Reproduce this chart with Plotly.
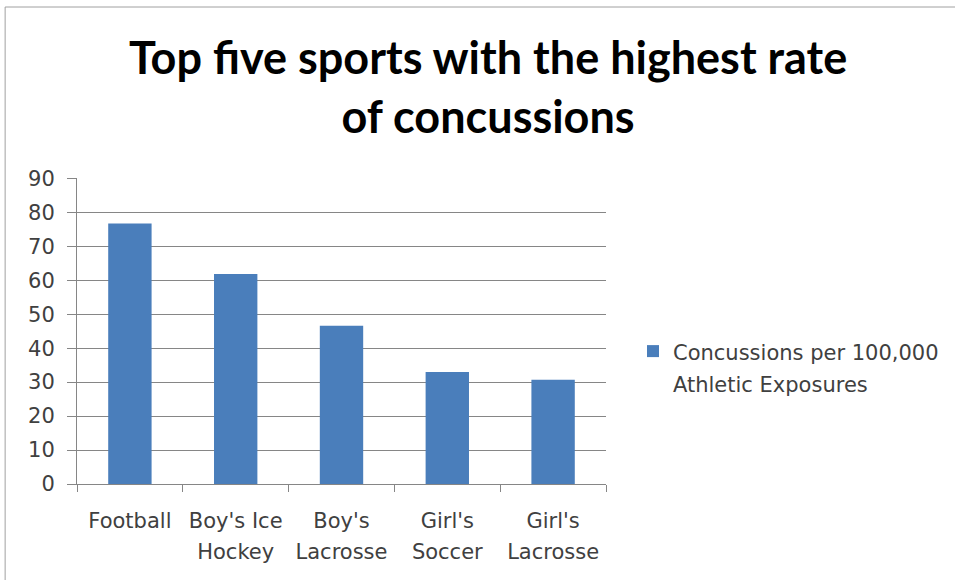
import plotly.graph_objects as go

categories = ["Football", "Boy's Ice Hockey", "Boy's Lacrosse", "Girl's Soccer", "Girl's Lacrosse"]
tick_line1 = ["Football", "Boy's Ice", "Boy's", "Girl's", "Girl's"]
tick_line2 = ["", "Hockey", "Lacrosse", "Soccer", "Lacrosse"]
values = [76.7, 61.8, 46.6, 33.0, 30.7]
legend_line1 = "Concussions per 100,000"
legend_line2 = "Athletic Exposures"
y_ticks = [0, 10, 20, 30, 40, 50, 60, 70, 80, 90]

W, H = 955, 580
L, R, T, B = 77, 348, 178, 96
pw, ph = W - L - R, H - T - B

def px_x(x):
    return (x - L) / pw

def px_y(y):
    return (H - B - y) / ph

def span(s, size):
    return f"<span style='font-size:{size}px'>{s}</span>" if s else ""

def two_lines(a, b, size):
    return span(a, size) + ("<br>" + span(b, size) if b else "")

tick_text = [two_lines(a, b, 21) for a, b in zip(tick_line1, tick_line2)]
series_name = two_lines(legend_line1, legend_line2, 21)

fig = go.Figure()
fig.add_trace(go.Bar(
    x=categories, y=values, name=series_name,
    marker=dict(color="#4A7EBB", line=dict(width=0)),
    width=0.41, showlegend=True,
))

font_family = "'DejaVu Sans', sans-serif"
label_color = "#404040"
axis_color = "#868686"
fig.update_layout(
    width=W, height=H,
    margin=dict(l=L, r=R, t=T, b=B, pad=0),
    paper_bgcolor="white", plot_bgcolor="white",
    font=dict(family=font_family, size=20, color=label_color),
    showlegend=True,
    legend=dict(
        x=px_x(633), y=px_y(329), xanchor="left", yanchor="top",
        valign="top",
        font=dict(size=24, color=label_color), bgcolor="rgba(0,0,0,0)",
    ),
    xaxis=dict(
        type="category",
        tickmode="array", tickvals=categories, ticktext=tick_text,
        showline=True, linecolor=axis_color, linewidth=1,
        ticks="outside", ticklen=7, tickcolor=axis_color,
        tickson="boundaries", showgrid=False,
        ticklabelstandoff=14,
        tickfont=dict(size=24, color=label_color),
    ),
    yaxis=dict(
        range=[0, 90.1], tickmode="array", tickvals=y_ticks,
        ticktext=[str(v) for v in y_ticks],
        showline=True, linecolor=axis_color, linewidth=1,
        ticks="outside", ticklen=9, tickcolor=axis_color,
        showgrid=True, gridcolor=axis_color, gridwidth=1,
        zeroline=False, ticklabelstandoff=8,
        tickfont=dict(size=21, color=label_color),
    ),
    annotations=[dict(
        text="<b>Top five sports with the highest rate<br>of concussions</b>",
        xref="paper", yref="paper", x=px_x(489), y=px_y(87),
        xanchor="center", yanchor="middle", showarrow=False,
        font=dict(size=45, color="black", family="Lato, 'Open Sans', sans-serif"),
    )],
    shapes=[dict(
        type="rect", xref="paper", yref="paper",
        x0=px_x(5), x1=px_x(990), y0=px_y(7), y1=px_y(600),
        line=dict(color="#A0A0A0", width=1),
    )],
)

fig.write_html("out.html", config={"displayModeBar": False},
               post_script="document.body.style.margin='0';")
